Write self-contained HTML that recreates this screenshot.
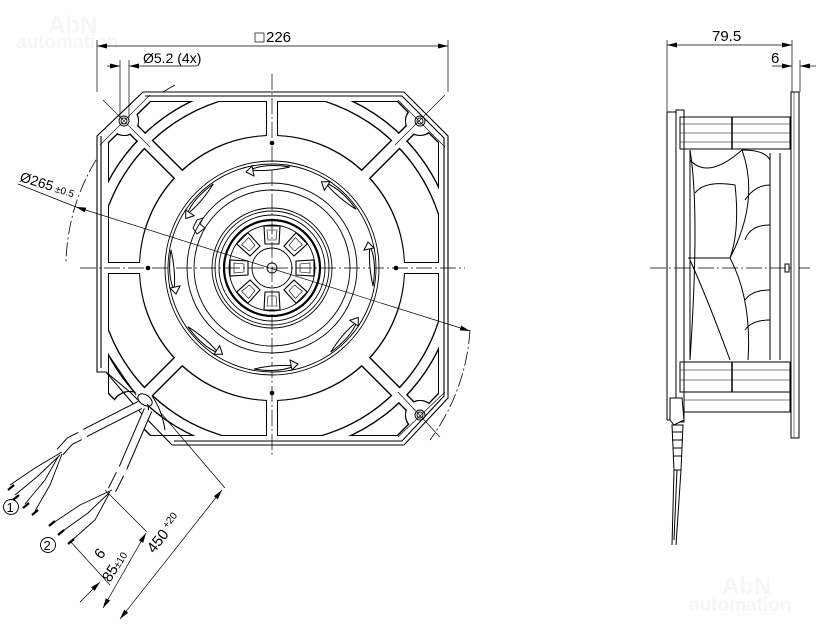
<!DOCTYPE html>
<html><head><meta charset="utf-8"><style>
html,body{margin:0;padding:0;background:#fff}
svg{display:block}
text{font-family:"Liberation Sans",sans-serif;fill:#000}
.wm{fill:#f6f6f6;font-weight:bold}
</style></head><body>
<svg width="816" height="624" viewBox="0 0 816 624" xmlns="http://www.w3.org/2000/svg">
<defs>
<marker id="a" viewBox="0 0 10 6" refX="10" refY="3" markerWidth="10" markerHeight="6" orient="auto-start-reverse" markerUnits="userSpaceOnUse"><path d="M0,0.5 L10,3 L0,5.5Z" fill="#000"/></marker>
<filter id="ol" x="-5%" y="-5%" width="110%" height="110%">
<feMorphology in="SourceAlpha" operator="erode" radius="1.1" result="e"/>
<feComposite in="SourceGraphic" in2="e" operator="out"/>
</filter>
<mask id="slots" maskUnits="userSpaceOnUse" x="0" y="0" width="816" height="624">
<rect width="816" height="624" fill="#000"/>
<polygon points="150,101 398,101 439,142 439,394 398,436 150,436 108,394 108,142" fill="#fff"/>
<circle cx="272" cy="268" r="132" fill="#000"/>
<circle cx="272" cy="268" r="180" fill="none" stroke="#000" stroke-width="9"/>
<g stroke="#000" stroke-width="10">
<line x1="272" y1="60" x2="272" y2="480"/>
<line x1="60" y1="268" x2="480" y2="268"/>
<line x1="110" y1="106" x2="434" y2="430"/>
<line x1="434" y1="106" x2="110" y2="430"/>
</g>
<circle cx="124" cy="121" r="14" fill="#000"/><circle cx="420" cy="121" r="14" fill="#000"/>
<circle cx="420" cy="415" r="14" fill="#000"/><circle cx="130" cy="410" r="18" fill="#000"/>
</mask>
</defs>

<text x="48" y="33" class="wm" font-size="24">AbN</text>
<text x="16" y="48" class="wm" font-size="19">automation</text>
<text x="722" y="594" class="wm" font-size="24">AbN</text>
<text x="689" y="611" class="wm" font-size="19">automation</text>

<g fill="none" stroke="#000" stroke-width="0.8" stroke-dasharray="14,3,2,3">
<path d="M175,85 A207,207 0 0 0 66,262"/>
<path d="M470,330 A207,207 0 0 1 430,440"/>
</g>

<g fill="none" stroke="#000" stroke-width="1.1">
<path d="M143,92 L404,92 L448,136 L448,398 L404,445 L172,445 L140,412 L106,372 L97,372 L97,136 Z" fill="#fff"/>
<path d="M145,96 L402,96 L444,138 L444,396 L402,441 L174,441"/>
<path d="M101,136 L101,368"/>
</g>
<g filter="url(#ol)"><rect width="816" height="624" fill="#000" mask="url(#slots)"/></g>

<g fill="none" stroke="#000" stroke-width="0.9">
<circle cx="124" cy="121" r="5"/><circle cx="124" cy="121" r="3"/>
<circle cx="420" cy="121" r="5"/><circle cx="420" cy="121" r="3"/>
<circle cx="420" cy="415" r="5"/><circle cx="420" cy="415" r="3"/>
</g>
<g stroke="#000" stroke-width="0.6">
<line x1="103" y1="100" x2="150" y2="147"/><line x1="150" y1="95" x2="100" y2="145"/>
<line x1="398" y1="100" x2="445" y2="147"/><line x1="445" y1="95" x2="395" y2="145"/>
<line x1="398" y1="392" x2="440" y2="437"/><line x1="445" y1="392" x2="398" y2="437"/>
</g>

<g stroke="#000" stroke-width="0.7" stroke-dasharray="16,3,2,3">
<line x1="272" y1="74" x2="272" y2="458"/>
<line x1="80" y1="268" x2="465" y2="268"/>
<line x1="650" y1="268" x2="810" y2="268"/>
</g>

<g fill="none" stroke="#000" stroke-width="0.9">
<circle cx="272" cy="268" r="107"/><circle cx="272" cy="268" r="104"/>
<circle cx="272" cy="268" r="85"/><circle cx="272" cy="268" r="78"/>
<circle cx="272" cy="268" r="60"/><circle cx="272" cy="268" r="57"/><circle cx="272" cy="268" r="53"/>
<circle cx="272" cy="268" r="48" stroke-width="2.2"/><circle cx="272" cy="268" r="43"/>
<circle cx="272" cy="268" r="20"/><circle cx="272" cy="268" r="5"/>
</g>
<g fill="#000">
<circle cx="272" cy="143" r="2.3"/><circle cx="272" cy="393" r="2.3"/>
<circle cx="148" cy="268" r="2.3"/><circle cx="396" cy="268" r="2.3"/>
</g>
<g fill="none" stroke="#000" stroke-width="1.1">
<g id="pk"><path d="M264,226 L280,226 L279,244 L265,244 Z"/><path d="M267,230 L277,230 L276,240 L268,240 Z" stroke-width="0.6"/></g>
<use href="#pk" transform="rotate(45 272 268)"/><use href="#pk" transform="rotate(90 272 268)"/>
<use href="#pk" transform="rotate(135 272 268)"/><use href="#pk" transform="rotate(180 272 268)"/>
<use href="#pk" transform="rotate(225 272 268)"/><use href="#pk" transform="rotate(270 272 268)"/>
<use href="#pk" transform="rotate(315 272 268)"/>
</g>
<g fill="#fff" stroke="#000" stroke-width="1">
<g id="bl"><path d="M250,170 Q265,163 290,167 Q268,172 250,170 Z"/><path d="M246,172 L252,166 L254,176Z"/></g>
<use href="#bl" transform="rotate(45 272 268)"/><use href="#bl" transform="rotate(90 272 268)"/>
<use href="#bl" transform="rotate(135 272 268)"/><use href="#bl" transform="rotate(180 272 268)"/>
<use href="#bl" transform="rotate(225 272 268)"/><use href="#bl" transform="rotate(270 272 268)"/>
<use href="#bl" transform="rotate(315 272 268)"/>
</g>
<path d="M193,228 L197,220 L203,218 L200,224 L205,228 L197,234 Z" fill="none" stroke="#000" stroke-width="0.9"/>

<g fill="none" stroke="#000" stroke-width="1">
<path d="M106,372 L130,392 L140,402" />
<path d="M110,357 L136,395"/>
<ellipse cx="145" cy="400" rx="8" ry="5" transform="rotate(35 145 400)"/>
<path d="M152,396 Q162,410 165,430"/>
</g>
<g stroke-linecap="butt" fill="none">
<path d="M140,405 L85,433 M80,436 L70,441 L60,452" stroke="#000" stroke-width="9"/>
<path d="M140,405 L85,433 M80,436 L70,441 L60,452" stroke="#fff" stroke-width="7"/>
<path d="M148,410 L123,468 M120,474 L112,490" stroke="#000" stroke-width="9"/>
<path d="M148,410 L123,468 M120,474 L112,490" stroke="#fff" stroke-width="7"/>
</g>
<g fill="none" stroke="#000" stroke-width="0.9">
<path d="M62,452 L35,468 L10,485 M60,455 L38,476 L15,495 M58,457 L45,480 L25,504 M62,454 L50,485 L35,511"/>
<path d="M112,490 L80,505 L50,525 M110,492 L88,513 L60,533 M109,494 L95,520 L70,542"/>
</g>
<g stroke="#000" stroke-width="2.2">
<line x1="14" y1="485" x2="8" y2="490"/><line x1="19" y1="495" x2="13" y2="500"/>
<line x1="29" y1="503" x2="23" y2="508"/><line x1="38" y1="510" x2="32" y2="515"/>
<line x1="55" y1="521" x2="49" y2="526"/><line x1="64" y1="530" x2="58" y2="535"/>
<line x1="74" y1="539" x2="68" y2="544"/>
</g>
<circle cx="11" cy="507" r="7.5" fill="none" stroke="#000" stroke-width="0.9"/>
<text x="6.5" y="512" font-size="13">1</text>
<circle cx="48" cy="545" r="7.5" fill="none" stroke="#000" stroke-width="0.9"/>
<text x="43.5" y="550" font-size="13">2</text>

<g stroke="#000" stroke-width="0.7" fill="none">
<line x1="70" y1="541" x2="110" y2="585"/>
<line x1="105" y1="490" x2="147" y2="532"/>
<line x1="160" y1="412" x2="225" y2="488"/>
<line x1="80" y1="602" x2="100" y2="582" marker-end="url(#a)"/>
<line x1="103" y1="608" x2="146" y2="533" marker-start="url(#a)" marker-end="url(#a)"/>
<line x1="120" y1="619" x2="222" y2="490" marker-start="url(#a)" marker-end="url(#a)"/>
</g>
<text font-size="15" transform="translate(101,560) rotate(-50)">6</text>
<text font-size="15" transform="translate(110,583) rotate(-58)">85<tspan font-size="10">±10</tspan></text>
<text font-size="15" transform="translate(154,554) rotate(-52)">450<tspan font-size="10" dy="-5"> +20</tspan></text>

<g stroke="#000" stroke-width="0.7" fill="none">
<line x1="97" y1="40" x2="97" y2="92"/><line x1="448" y1="40" x2="448" y2="92"/>
<line x1="97" y1="46" x2="448" y2="46" marker-start="url(#a)" marker-end="url(#a)"/>
<rect x="255" y="33" width="9" height="9"/>
<line x1="120" y1="60" x2="120" y2="118"/><line x1="129" y1="60" x2="129" y2="118"/>
<line x1="107" y1="66" x2="120" y2="66" marker-end="url(#a)"/>
<line x1="142" y1="66" x2="129" y2="66" marker-end="url(#a)"/>
<line x1="142" y1="66" x2="197" y2="66"/>
</g>
<text x="266" y="42" font-size="15">226</text>
<text x="143" y="63" font-size="14">Ø5.2 (4x)</text>

<g stroke="#000" stroke-width="0.7" fill="none">
<line x1="18" y1="184" x2="76" y2="207"/>
<line x1="76" y1="207" x2="470" y2="331" marker-start="url(#a)" marker-end="url(#a)"/>
</g>
<text font-size="14" transform="translate(19,181) rotate(17)">Ø265<tspan font-size="10"> ±0.5</tspan></text>

<g stroke="#000" stroke-width="0.7" fill="none">
<line x1="667" y1="40" x2="667" y2="112"/><line x1="792" y1="40" x2="792" y2="92"/>
<line x1="667" y1="45" x2="792" y2="45" marker-start="url(#a)" marker-end="url(#a)"/>
<line x1="800" y1="60" x2="800" y2="92"/>
<line x1="772" y1="66" x2="792" y2="66" marker-end="url(#a)"/>
<line x1="816" y1="66" x2="800" y2="66" marker-end="url(#a)"/>
</g>
<text x="712" y="41" font-size="15">79.5</text>
<text x="771" y="63" font-size="15">6</text>
<g fill="none" stroke="#000" stroke-width="1">
<rect x="791" y="92" width="8" height="346" fill="#fff"/>
<line x1="794" y1="92" x2="794" y2="438" stroke-width="0.5"/>
<path d="M667,112 L667,420 M667,112 L676,112 M667,420 L676,420"/>
<rect x="676" y="110" width="8" height="312"/>
<rect x="680" y="117" width="110" height="32"/>
<line x1="680" y1="124" x2="790" y2="124" stroke-width="0.6"/>
<line x1="680" y1="133" x2="790" y2="133" stroke-width="0.6"/>
<line x1="680" y1="142" x2="790" y2="142" stroke-width="0.6"/>
<line x1="732" y1="117" x2="732" y2="149" stroke-width="1.5"/>
<rect x="680" y="362" width="110" height="30"/>
<line x1="680" y1="370" x2="790" y2="370" stroke-width="0.6"/>
<line x1="680" y1="380" x2="790" y2="380" stroke-width="0.6"/>
<line x1="732" y1="362" x2="732" y2="392" stroke-width="1.5"/>
<rect x="684" y="392" width="106" height="20"/>
<line x1="684" y1="400" x2="790" y2="400" stroke-width="0.6"/>
<line x1="690" y1="150" x2="690" y2="360"/>
<line x1="770" y1="153" x2="770" y2="360"/>
<line x1="780" y1="153" x2="780" y2="360"/>
<path d="M690,150 Q700,210 690,360"/>
<path d="M690,160 Q708,180 742,150 Q760,200 730,258 Q752,300 748,360"/>
<path d="M695,193 Q705,180 735,185 Q740,230 730,258 L688,258"/>
<path d="M742,150 Q765,150 770,160 M745,200 Q755,185 770,185 M745,240 Q750,225 770,225 M745,300 Q752,290 770,290 M745,330 Q752,320 770,320"/>
<path d="M690,260 Q708,300 730,360"/>
<rect x="785" y="264" width="4" height="8"/>
<path d="M670,398 L682,398 L684,420 L674,425 L670,420 Z" fill="#fff"/>
<path d="M672,425 L683,425 L681,470 L674,470 Z"/>
<line x1="672" y1="432" x2="683" y2="432"/><line x1="672" y1="440" x2="683" y2="440"/>
<line x1="673" y1="448" x2="682" y2="448"/><line x1="673" y1="456" x2="682" y2="456"/>
<path d="M674,470 L672,545 M681,470 L676,545 M677,470 L674,540"/>
</g>
</svg>
</body></html>
